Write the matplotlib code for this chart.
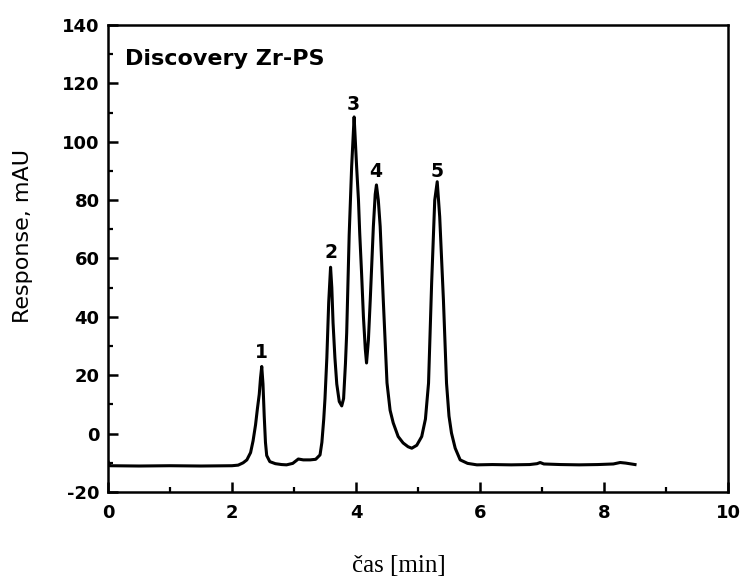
import matplotlib
matplotlib.use("Agg")
import matplotlib.pyplot as plt
from matplotlib.ticker import MultipleLocator

# Chromatogram trace
time_min = [0.00, 0.03, 0.50, 1.00, 1.50, 2.00, 2.10, 2.18, 2.24, 2.30, 2.34, 2.38, 2.41, 2.44,
            2.46, 2.48, 2.50, 2.52, 2.54, 2.56, 2.61, 2.70, 2.80, 2.88, 2.98, 3.07, 3.15,
            3.26, 3.35, 3.42, 3.45, 3.48, 3.50, 3.53, 3.56, 3.59, 3.61, 3.63, 3.66, 3.69,
            3.73, 3.77, 3.80, 3.83, 3.85, 3.89, 3.93, 3.95, 3.97, 3.99, 4.01, 4.04, 4.06,
            4.09, 4.12, 4.15, 4.17, 4.20, 4.23, 4.28, 4.31, 4.33, 4.36, 4.39, 4.44, 4.50,
            4.55, 4.60, 4.68, 4.76, 4.84, 4.90, 4.98, 5.06, 5.12, 5.17, 5.22, 5.27, 5.31,
            5.35, 5.41, 5.46, 5.50, 5.54, 5.60, 5.68, 5.80, 5.95, 6.20, 6.50, 6.80, 6.92,
            6.97, 7.03, 7.30, 7.60, 7.90, 8.15, 8.26, 8.35, 8.50]
response = [-9.5, -11.0, -11.1, -11.0, -11.1, -11.0, -10.8, -10.0, -9.0, -6.5, -2.5, 3.0, 8.5, 13.5,
            19.0, 23.0, 17.0, 6.0, -3.0, -7.5, -9.6, -10.3, -10.6, -10.7, -10.2, -8.7, -9.0,
            -9.0, -8.8, -7.3, -3.0, 5.0, 12.0, 26.0, 45.0, 57.0, 50.0, 38.0, 26.0, 17.0,
            11.0, 9.5, 12.0, 24.0, 34.5, 68.0, 91.5, 100.0, 108.5, 100.0, 91.5, 80.0, 68.7,
            55.0, 40.0, 29.0, 24.2, 32.0, 45.8, 70.9, 82.0, 85.2, 80.0, 71.0, 45.8, 17.4,
            8.0, 3.7, -1.0, -3.2, -4.5, -5.0, -4.0, -1.0, 5.0, 17.3, 51.6, 80.0, 86.3,
            74.3, 45.8, 17.3, 6.0, 0.2, -5.0, -9.0, -10.2, -10.7, -10.6, -10.7, -10.6, -10.3,
            -9.9, -10.4, -10.6, -10.7, -10.6, -10.4, -9.9, -10.1, -10.6]

peak_labels = ["1", "2", "3", "4", "5"]
peak_label_x = [2.48, 3.59, 3.95, 4.31, 5.31]
peak_label_y = [27.8, 62.0, 112.8, 89.8, 89.8]

x_ticks = [0, 2, 4, 6, 8, 10]
y_ticks = [-20, 0, 20, 40, 60, 80, 100, 120, 140]

SANS = ["DejaVu Sans"]

fig = plt.figure(figsize=(7.41, 5.81), dpi=100)
ax = fig.add_axes([0.1457, 0.1532, 0.8368, 0.8038])

ax.plot(time_min, response, color="black", lw=2.2)

for lab, lx, ly in zip(peak_labels, peak_label_x, peak_label_y):
    ax.text(lx, ly, lab, ha="center", va="center", fontsize=13.5,
            fontweight="bold", family=SANS)

ax.text(0.027, 0.928, "Discovery Zr-PS", transform=ax.transAxes, ha="left", va="center",
        fontsize=16, fontweight="bold", family=SANS)

ax.set_xlim(0, 10)
ax.set_ylim(-20, 140)
ax.set_xticks(x_ticks)
ax.set_yticks(y_ticks)
ax.set_xticklabels([str(t) for t in x_ticks])
ax.set_yticklabels([str(t) for t in y_ticks])
ax.xaxis.set_minor_locator(MultipleLocator(1))
ax.yaxis.set_minor_locator(MultipleLocator(10))

ax.tick_params(axis="both", which="major", direction="in", length=7, width=1.8,
               top=False, right=False, labelsize=13)
ax.tick_params(axis="both", which="minor", direction="in", length=3.5, width=1.6,
               top=False, right=False)
ax.tick_params(axis="x", which="major", pad=9)
ax.tick_params(axis="y", which="major", pad=6)
for lab in ax.get_xticklabels() + ax.get_yticklabels():
    lab.set_fontweight("bold")
    lab.set_family(SANS)

for sp in ax.spines.values():
    sp.set_linewidth(1.8)

ax.set_ylabel("Response, mAU", fontsize=16, family=SANS)
ax.yaxis.set_label_coords(-0.121, 0.548)
ax.set_xlabel("čas [min]", fontsize=18, family="Liberation Serif")
ax.xaxis.set_label_coords(0.4685, -0.135)

fig.savefig("out.png", dpi=100)
